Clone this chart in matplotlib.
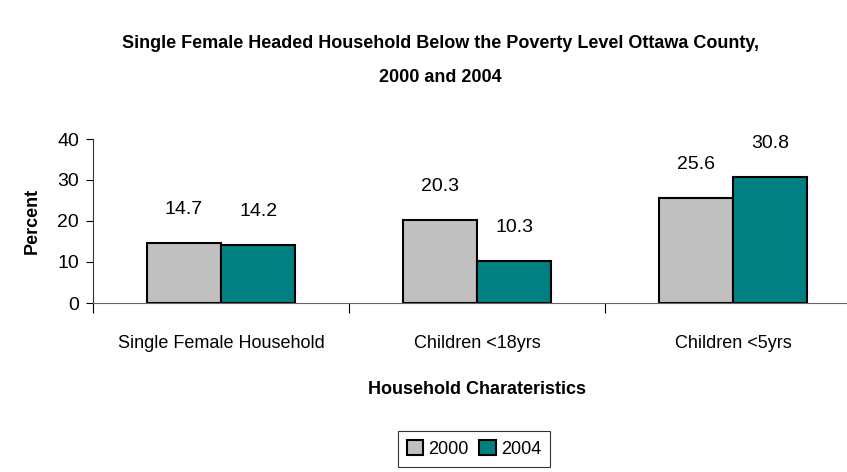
import matplotlib
matplotlib.use("Agg")
import matplotlib.pyplot as plt
import numpy as np

categories = ["Single Female Household", "Children <18yrs", "Children <5yrs"]
years = ["2000", "2004"]
values_2000 = [14.7, 20.3, 25.6]
values_2004 = [14.2, 10.3, 30.8]
yticks = [0, 10, 20, 30, 40]

plt.rcParams['font.family'] = ['Liberation Sans', 'DejaVu Sans']

fig = plt.figure(figsize=(8.47, 4.72), dpi=100)
W, H = 847, 472
left, right, top, bottom = 93, 861, 139, 303
ax = fig.add_axes([left / W, 1 - bottom / H, (right - left) / W, (bottom - top) / H])

x = np.arange(len(categories))
bw = 0.29
b1 = ax.bar(x - bw / 2, values_2000, bw, color="#C0C0C0", edgecolor="black", linewidth=1.5, label=years[0])
b2 = ax.bar(x + bw / 2, values_2004, bw, color="#008080", edgecolor="black", linewidth=1.5, label=years[1])

for bars, vals in ((b1, values_2000), (b2, values_2004)):
    for rect, v in zip(bars, vals):
        ax.annotate(f"{v:.1f}", (rect.get_x() + rect.get_width() / 2, v),
                    xytext=(0, 24), textcoords="offset points",
                    ha="center", va="center", fontsize=14)

ax.set_xlim(-0.5, 2.5)
ax.set_ylim(0, 40)
ax.set_yticks(yticks)
ax.tick_params(axis="y", labelsize=14, length=5, width=0.8, pad=5)
ax.set_xticks([-0.5, 0.5, 1.5])
ax.set_xticklabels([])
ax.tick_params(axis="x", which="major", length=7, width=0.8)
ax.set_xticks(x, minor=True)
ax.set_xticklabels(categories, minor=True)
ax.tick_params(axis="x", which="minor", length=0, labelsize=13, pad=23)

for s in ("top", "right"):
    ax.spines[s].set_visible(False)
ax.spines["left"].set_color("#333333")
ax.spines["bottom"].set_color("#666666")

ax.set_ylabel("Percent", fontsize=13, fontweight="bold", labelpad=12)
fig.text(477 / W, 1 - 390 / H, "Household Charateristics", ha="center", va="center",
         fontsize=13, fontweight="bold")
fig.text(440 / W, 1 - 44 / H, "Single Female Headed Household Below the Poverty Level Ottawa County,",
         ha="center", va="center", fontsize=13, fontweight="bold")
fig.text(440 / W, 1 - 77 / H, "2000 and 2004", ha="center", va="center", fontsize=13, fontweight="bold")

leg = fig.legend(loc="center", bbox_to_anchor=(474 / W, 1 - 449 / H), ncol=2, fontsize=13,
                 frameon=True, fancybox=False, edgecolor="black", handlelength=0.9, handleheight=0.9,
                 handletextpad=0.3, columnspacing=0.6, borderpad=0.5)
leg.get_frame().set_linewidth(0.8)

fig.savefig("out.png", dpi=100)
